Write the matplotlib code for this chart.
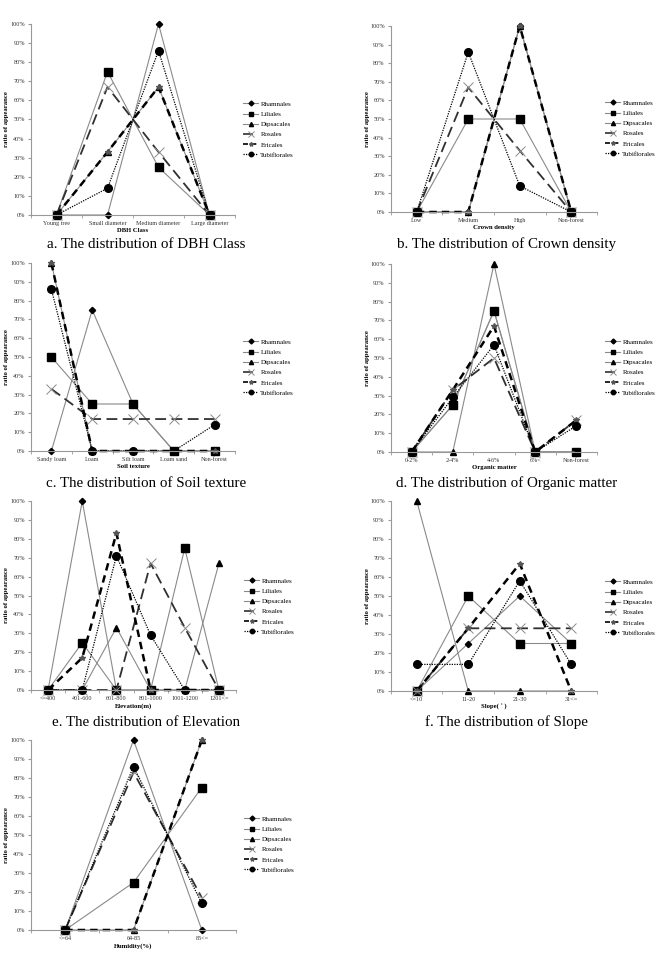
import matplotlib
matplotlib.use('Agg')
import matplotlib.pyplot as plt
import numpy as np

# series names (same in every panel)
orders = ['Rhamnales', 'Liliales', 'Dipsacales', 'Rosales', 'Ericales', 'Tubiflorales']

# a. DBH class
dbh_cats = ['Young tree', 'Small diameter', 'Medium diameter', 'Large diameter']
dbh_vals = [[0, 0, 100, 0],
            [0, 75, 25, 0],
            [0, 33, 67, 0],
            [0, 67, 33, 0],
            [0, 33, 67, 0],
            [0, 14, 86, 0]]

# b. crown density
crown_cats = ['Low', 'Medium', 'High', 'Non-forest']
crown_vals = [[0, 0, 100, 0],
              [0, 50, 50, 0],
              [0, 0, 100, 0],
              [0, 67, 33, 0],
              [0, 0, 100, 0],
              [0, 86, 14, 0]]

# c. soil texture
soil_cats = ['Sandy loam', 'Loam', 'Silt loam', 'Loam sand', 'Non-forest']
soil_vals = [[0, 75, 25, 0, 0],
             [50, 25, 25, 0, 0],
             [100, 0, 0, 0, 0],
             [33, 17, 17, 17, 17],
             [100, 0, 0, 0, 0],
             [86, 0, 0, 0, 14]]

# d. organic matter
org_cats = ['0-2%', '2-4%', '4-6%', '6%<', 'Non-forest']
org_vals = [[0, 25, 75, 0, 0],
            [0, 25, 75, 0, 0],
            [0, 0, 100, 0, 0],
            [0, 33, 50, 0, 17],
            [0, 33, 67, 0, 17],
            [0, 29, 57, 0, 14]]

# e. elevation
elev_cats = ['<=400', '401-600', '601-800', '801-1000', '1001-1200', '1201<=']
elev_vals = [[0, 100, 0, 0, 0, 0],
             [0, 25, 0, 0, 75, 0],
             [0, 0, 33, 0, 0, 67],
             [0, 0, 0, 67, 33, 0],
             [0, 17, 83, 0, 0, 0],
             [0, 0, 71, 29, 0, 0]]

# f. slope
slope_cats = ['<=10', '11-20', '21-30', '31<=']
slope_vals = [[0, 25, 50, 25],
              [0, 50, 25, 25],
              [100, 0, 0, 0],
              [0, 33, 33, 33],
              [0, 33, 67, 0],
              [14, 14, 58, 14]]

# g. humidity
hum_cats = ['<=64', '64-85', '85<=']
hum_vals = [[0, 100, 0],
            [0, 25, 75],
            [0, 0, 100],
            [0, 83, 17],
            [0, 0, 100],
            [0, 86, 14]]

styles = [
    dict(color='#8a8a8a', lw=0.8, ls='-', marker='D', ms=3.2, mfc='black', mec='black'),
    dict(color='#8a8a8a', lw=0.8, ls='-', marker='s', ms=5.5, mfc='black', mec='black'),
    dict(color='#8a8a8a', lw=0.8, ls='-', marker='^', ms=4.5, mfc='black', mec='black'),
    dict(color='#303030', lw=1.3, ls=(0, (6, 3)), marker='x', ms=7, mfc='#8a8a8a', mec='#8a8a8a', mew=0.7),
    dict(color='black', lw=1.8, ls=(0, (3, 2)), marker='*', ms=4, mfc='#555555', mec='#555555'),
    dict(color='black', lw=0.9, ls=(0, (1, 1)), marker='o', ms=5.5, mfc='black', mec='black'),
]
legend_ms = [2.5, 3.2, 3.0, 4.0, 3.0, 3.2]

W, H = 667, 955
fig = plt.figure(figsize=(W / 100, H / 100), dpi=100)
serif = 'Liberation Serif'


def panel(box, cats, vals, xlabel, legend_y, ylabel_x):
    l, r, t, b = box
    ax = fig.add_axes([l / W, 1 - b / H, (r - l) / W, (b - t) / H])
    x = np.arange(len(cats))
    for name, v, st in zip(orders, vals, styles):
        ax.plot(x, v, label=name, clip_on=False, **st)
    ax.set_xlim(-0.5, len(cats) - 0.5)
    ax.set_ylim(0, 100)
    ax.set_yticks(np.arange(0, 101, 10))
    ax.set_yticklabels(['%d%%' % v for v in range(0, 101, 10)],
                       fontsize=4.4, family=serif, color='#333333')
    ax.set_xticks(x)
    ax.set_xticklabels(cats, fontsize=4.4, family=serif, color='#333333')
    ax.set_xticks(np.arange(-0.5, len(cats)), minor=True)
    ax.tick_params(axis='x', which='major', length=0, pad=4.5)
    ax.tick_params(axis='x', which='minor', length=2.5, color='#999999', direction='out')
    ax.tick_params(axis='y', length=2.5, color='#999999', pad=2)
    for s in ['top', 'right']:
        ax.spines[s].set_visible(False)
    for s in ['left', 'bottom']:
        ax.spines[s].set_color('#999999')
        ax.spines[s].set_linewidth(0.8)
    ax.set_xlabel(xlabel, fontsize=4.8, family=serif, fontweight='bold', labelpad=1.5)
    fig.text(ylabel_x / W, 1 - (t + b) / 2 / H, 'ratio of appearance', rotation=90,
             fontsize=4.8, family=serif, fontweight='bold', ha='center', va='center')
    leg = ax.legend(loc='upper left', bbox_to_anchor=((r + 8) / W, 1 - legend_y / H),
                    bbox_transform=fig.transFigure, frameon=False,
                    prop=dict(family=serif, size=5), handlelength=2.2,
                    handletextpad=0.3, labelspacing=0.62, borderpad=0, borderaxespad=0)
    for h, m in zip(leg.legend_handles, legend_ms):
        h.set_markersize(m)
        h.set_linewidth(min(h.get_linewidth(), 1.2))
    return ax


panel((31, 235, 24, 215), dbh_cats, dbh_vals, 'DBH Class', 101, 7)
panel((391, 597, 26, 212), crown_cats, crown_vals, 'Crown density', 100, 367)
panel((31, 235, 263, 451), soil_cats, soil_vals, 'Soil texture', 339, 7)
panel((391, 597, 264, 452), org_cats, org_vals, 'Organic matter', 339, 367)
panel((31, 236, 501, 690), elev_cats, elev_vals, 'Elevation(m)', 578, 7)
panel((391, 597, 501, 691), slope_cats, slope_vals, 'Slope( \u02da )', 579, 367)
panel((31, 236, 740, 930), hum_cats, hum_vals, 'Humidity(%)', 816, 7)

captions = [(146, 244, 'a. The distribution of DBH Class'),
            (507, 244, 'b. The distribution of Crown density'),
            (146, 483, 'c. The distribution of Soil texture'),
            (507, 483, 'd. The distribution of Organic matter'),
            (146, 722, 'e. The distribution of Elevation'),
            (507, 722, 'f. The distribution of Slope')]
for cx, cy, txt in captions:
    fig.text(cx / W, 1 - cy / H, txt, fontsize=10.8, family=serif,
             ha='center', va='center')

fig.savefig('out.png', dpi=100)
